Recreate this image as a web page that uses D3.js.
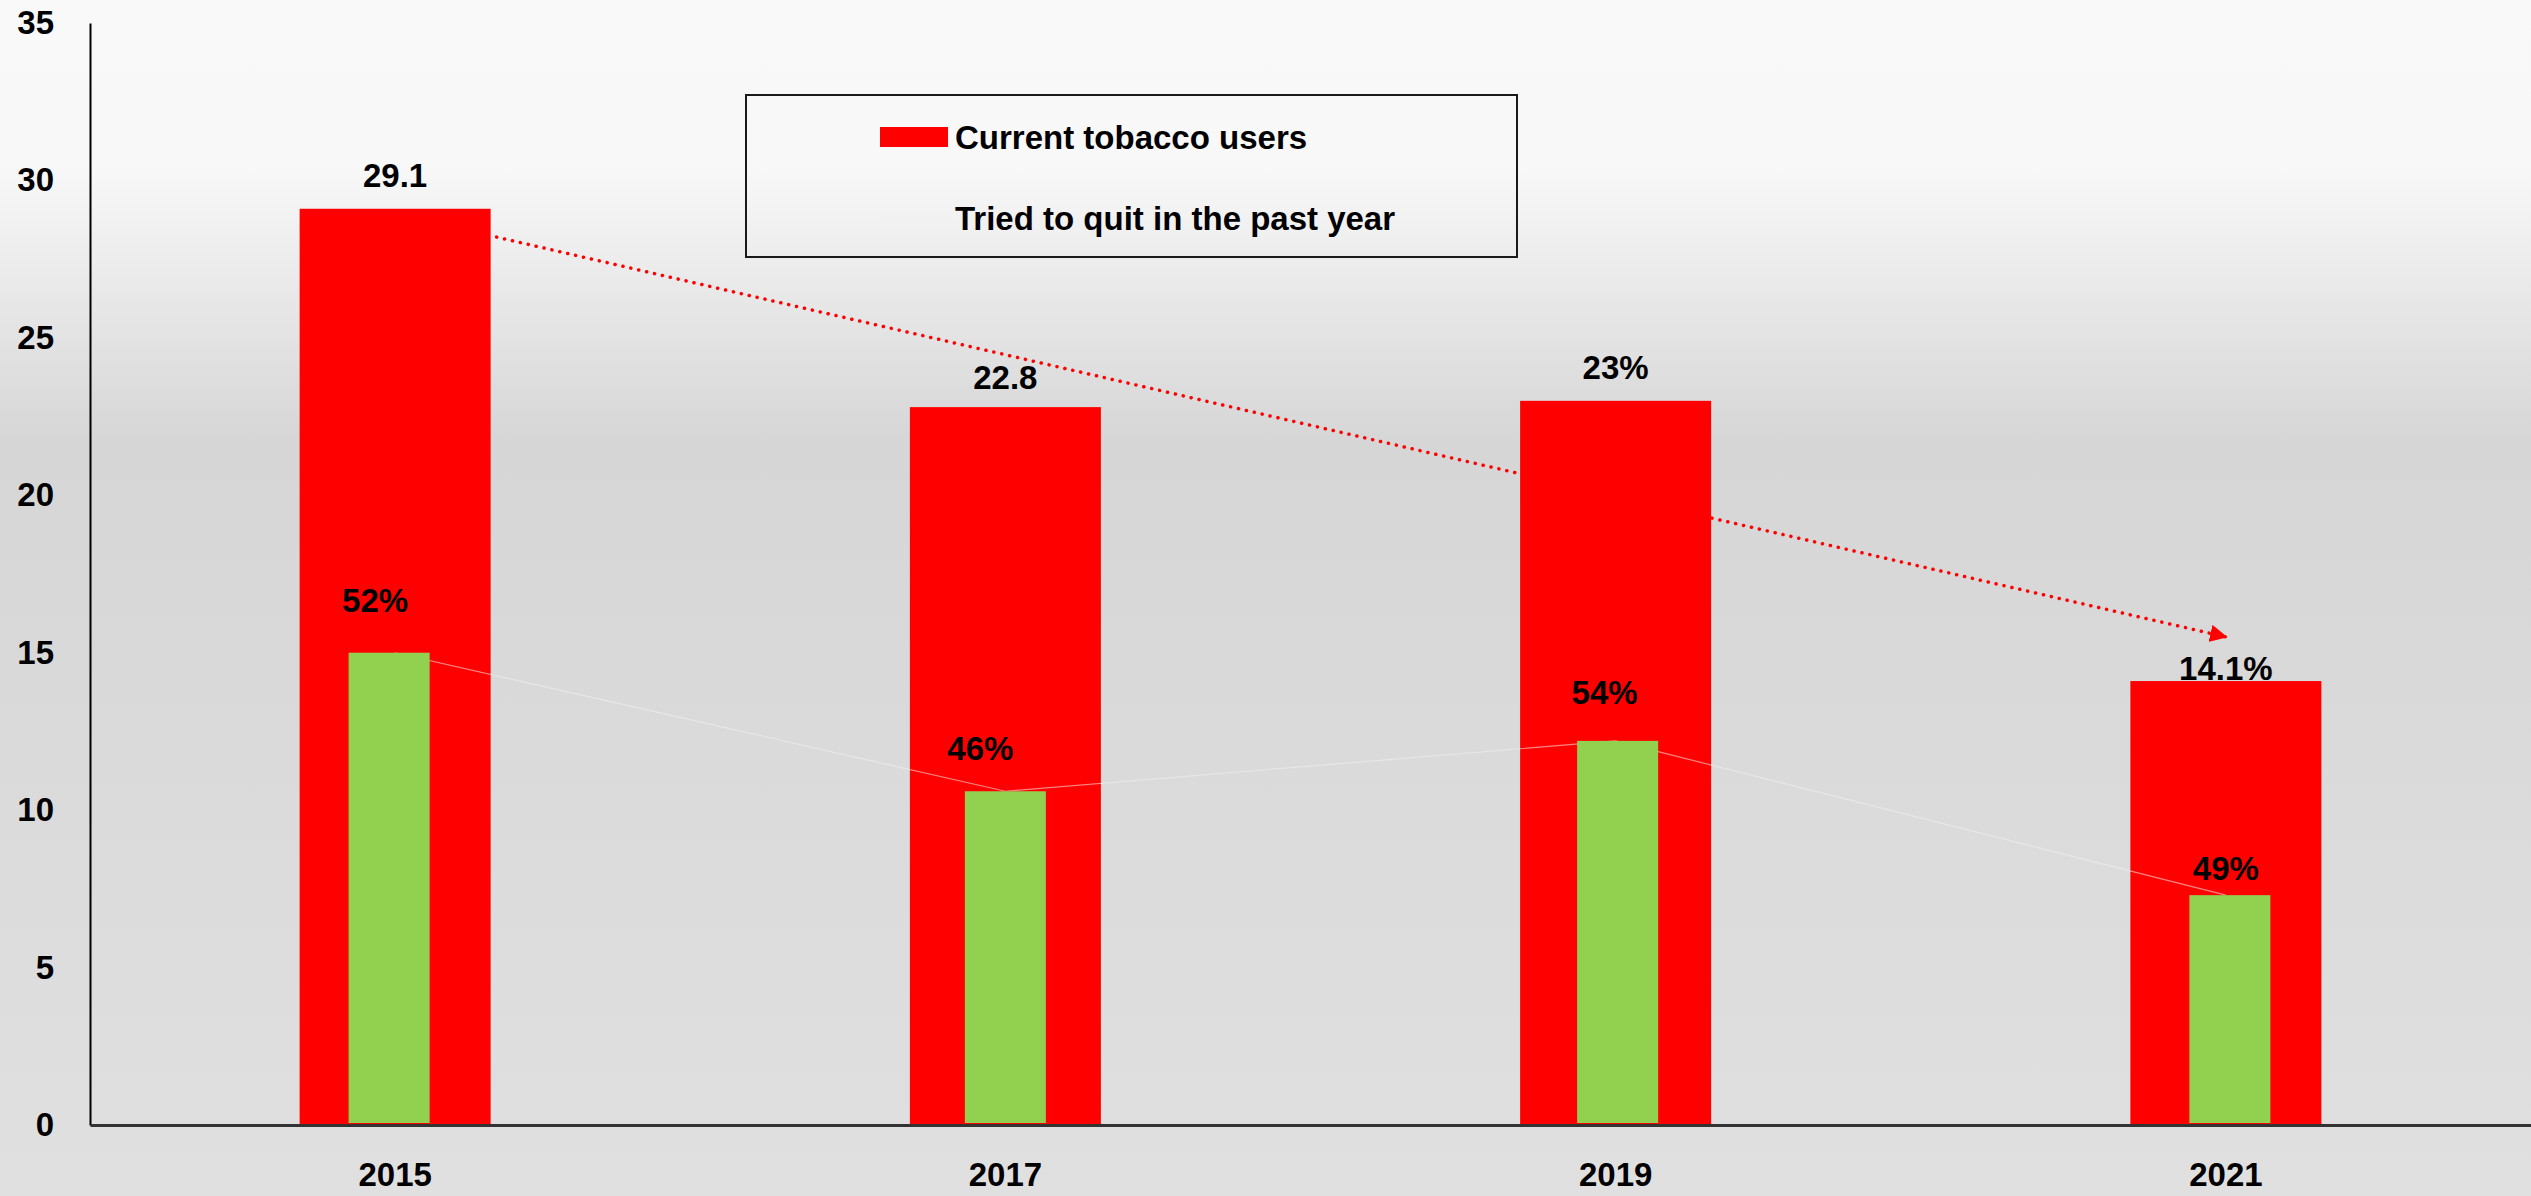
<!DOCTYPE html>
<html>
<head>
<meta charset="utf-8">
<script src="https://cdn.jsdelivr.net/npm/d3@7"></script>
<style>
  body { margin: 0; background: #e0e0e0; }
  text { font-family: "Liberation Sans", Arial, sans-serif; font-weight: bold; fill: #000; }
</style>
</head>
<body>
<script>
var width = 2531, height = 1196

// data
var years = ["2015", "2017", "2019", "2021"]
var tobaccoUsers = [29.1, 22.8, 23, 14.1]
var tobaccoLabels = ["29.1", "22.8", "23%", "14.1%"]
var triedToQuit = [15.0, 10.6, 12.2, 7.3]
var quitLabels = ["52%", "46%", "54%", "49%"]
var yTicks = [0, 5, 10, 15, 20, 25, 30, 35]
var seriesNames = ["Current tobacco users", "Tried to quit in the past year"]
// dotted trend arrow, in data units (start near 2015 bar edge, end over 2021)
var trendStart = 28.2, trendEnd = 15.5

var margin = {left: 90, right: 0, top: 23, bottom: 71}

var svg = d3.select("body").append("svg")
    .attr("width", width)
    .attr("height", height)

// background gradient like the slide
var defs = svg.append("defs")
var grad = defs.append("linearGradient")
    .attr("id", "bg").attr("x1", 0).attr("y1", 0).attr("x2", 0).attr("y2", 1)
grad.append("stop").attr("offset", "0%").attr("stop-color", "#f9f9f9")
grad.append("stop").attr("offset", "14%").attr("stop-color", "#f8f8f8")
grad.append("stop").attr("offset", "37%").attr("stop-color", "#d6d6d6")
grad.append("stop").attr("offset", "100%").attr("stop-color", "#e0e0e0")

defs.append("marker")
    .attr("id", "arrow")
    .attr("viewBox", "0 0 10 10")
    .attr("refX", 9).attr("refY", 5)
    .attr("markerWidth", 5).attr("markerHeight", 5)
    .attr("markerUnits", "strokeWidth")
    .attr("orient", "auto")
  .append("path")
    .attr("d", "M0,0 L10,5 L0,10 z")
    .attr("fill", "#ff0000")

svg.append("rect")
    .attr("width", width).attr("height", height)
    .attr("fill", "url(#bg)")

var x = d3.scaleBand()
    .domain(years)
    .range([margin.left, width - margin.right])
    .paddingInner(0.687)
    .paddingOuter(0.3435)

var y = d3.scaleLinear()
    .domain([0, 35])
    .range([height - margin.bottom, margin.top])

var greenW = 81
var greenShift = [-6, 0, 2, 4]

// red bars
svg.append("g").selectAll("rect")
    .data(years)
    .enter().append("rect")
    .attr("x", function(d) { return x(d) })
    .attr("y", function(d, i) { return y(tobaccoUsers[i]) })
    .attr("width", x.bandwidth())
    .attr("height", function(d, i) { return y(0) - y(tobaccoUsers[i]) })
    .attr("fill", "#ff0000")

// faint line for tried to quit
var line = d3.line()
    .x(function(d, i) { return x(years[i]) + x.bandwidth() / 2 })
    .y(function(d) { return y(d) })

svg.append("path")
    .datum(triedToQuit)
    .attr("d", line)
    .attr("fill", "none")
    .attr("stroke", "#f2f2f2")
    .attr("stroke-opacity", 0.55)
    .attr("stroke-width", 1.2)

// green bars
svg.append("g").selectAll("rect")
    .data(years)
    .enter().append("rect")
    .attr("x", function(d, i) { return x(d) + x.bandwidth() / 2 - greenW / 2 + greenShift[i] })
    .attr("y", function(d, i) { return y(triedToQuit[i]) })
    .attr("width", greenW)
    .attr("height", function(d, i) { return y(0) - y(triedToQuit[i]) - 2 })
    .attr("fill", "#92d050")

// y axis
var yAxis = svg.append("g")
    .attr("transform", "translate(" + margin.left + ",0)")
    .call(d3.axisLeft(y).tickValues(yTicks).tickSize(0).tickPadding(36).tickFormat(d3.format("d")))
yAxis.select(".domain").attr("stroke", "#000").attr("stroke-width", 2)
yAxis.selectAll("text").style("font-size", "33px")

// x axis
var xAxis = svg.append("g")
    .attr("transform", "translate(0," + y(0) + ")")
    .call(d3.axisBottom(x).tickSize(0).tickPadding(38))
xAxis.select(".domain").attr("stroke", "#333").attr("stroke-width", 3)
xAxis.selectAll("text").style("font-size", "33px")

// value labels
var topOffset = [22, 18, 22, 1]
svg.append("g").selectAll("text")
    .data(tobaccoLabels)
    .enter().append("text")
    .attr("x", function(d, i) { return x(years[i]) + x.bandwidth() / 2 })
    .attr("y", function(d, i) { return y(tobaccoUsers[i]) - topOffset[i] })
    .attr("text-anchor", "middle")
    .style("font-size", "33px")
    .text(function(d) { return d })

var quitOffset = [[-20, 41], [-25, 31], [-11, 37], [0, 15]]
svg.append("g").selectAll("text")
    .data(quitLabels)
    .enter().append("text")
    .attr("x", function(d, i) { return x(years[i]) + x.bandwidth() / 2 + quitOffset[i][0] })
    .attr("y", function(d, i) { return y(triedToQuit[i]) - quitOffset[i][1] })
    .attr("text-anchor", "middle")
    .style("font-size", "33px")
    .text(function(d) { return d })

// dotted trend arrow
svg.append("line")
    .attr("x1", x(years[0]) + x.bandwidth() + 6)
    .attr("y1", y(trendStart))
    .attr("x2", x(years[3]) + x.bandwidth() / 2)
    .attr("y2", y(trendEnd))
    .attr("stroke", "#ff0000")
    .attr("stroke-width", 3.5)
    .attr("stroke-linecap", "round")
    .attr("stroke-dasharray", "0.1 8")
    .attr("marker-end", "url(#arrow)")

// legend
var legend = svg.append("g")
legend.append("rect")
    .attr("x", 746).attr("y", 95)
    .attr("width", 771).attr("height", 162)
    .attr("fill", "none")
    .attr("stroke", "#1a1a1a")
    .attr("stroke-width", 2)
legend.append("rect")
    .attr("x", 880).attr("y", 127)
    .attr("width", 68).attr("height", 20)
    .attr("fill", "#ff0000")
legend.append("line")
    .attr("x1", 880).attr("x2", 948)
    .attr("y1", 217).attr("y2", 217)
    .attr("stroke", "#f0f0f0")
    .attr("stroke-width", 1.2)
legend.selectAll("text.leg")
    .data(seriesNames)
    .enter().append("text")
    .attr("class", "leg")
    .attr("x", 955)
    .attr("y", function(d, i) { return 149 + i * 81 })
    .style("font-size", "33px")
    .text(function(d) { return d })
</script>
</body>
</html>
